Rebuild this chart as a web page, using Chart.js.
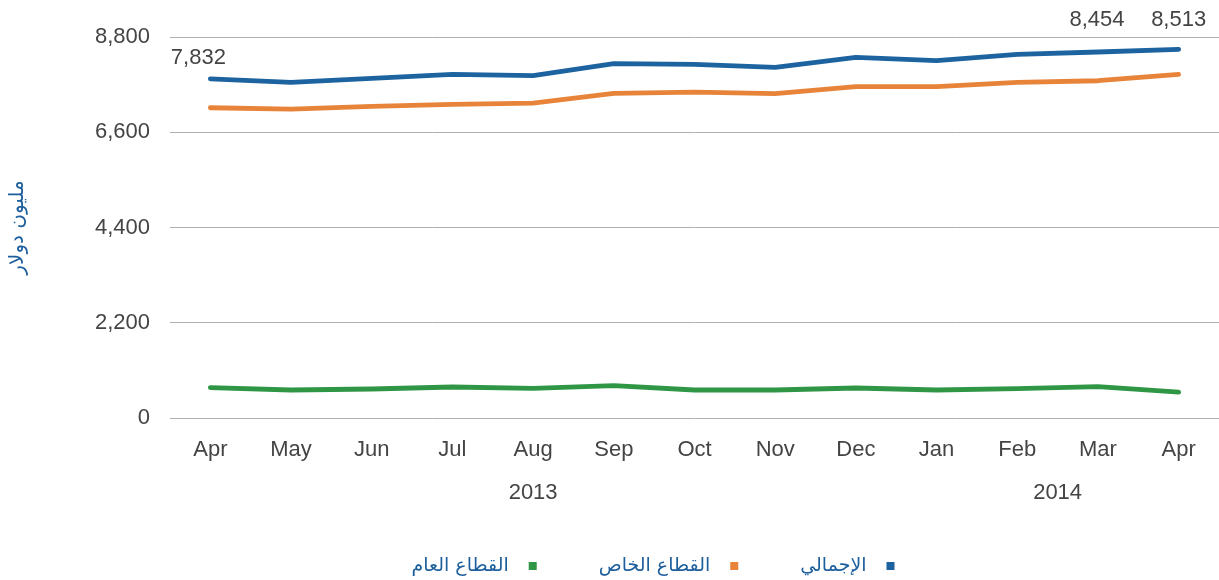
<!DOCTYPE html>
<html>
<head>
<meta charset="utf-8">
<script src="https://cdn.jsdelivr.net/npm/chart.js@4.4.1/dist/chart.umd.min.js"></script>
<style>
  html, body { margin: 0; padding: 0; background: #fff; }
</style>
</head>
<body>
<canvas id="myChart" width="1219" height="580"></canvas>
<script>
// data
const months = ['Apr', 'May', 'Jun', 'Jul', 'Aug', 'Sep', 'Oct', 'Nov', 'Dec', 'Jan', 'Feb', 'Mar', 'Apr'];
const yearNames = ['2013', '2014'];
const yearFrom = [4, 10];
const yearTo = [4, 11];
const seriesNames = ['الإجمالي', 'القطاع الخاص', 'القطاع العام'];
const total = [7832, 7753, 7845, 7938, 7906, 8183, 8169, 8099, 8330, 8252, 8400, 8454, 8513];
const privateSector = [7166, 7136, 7197, 7244, 7274, 7497, 7529, 7490, 7652, 7652, 7753, 7790, 7938];
const publicSector = [700, 647, 670, 716, 686, 746, 647, 647, 693, 647, 677, 723, 600];
const yTicks = [0, 2200, 4400, 6600, 8800];
const labelledPoints = [0, 11, 12];
const yTitle = 'مليون دولار';

const colors = ['#1c63a0', '#e8843a', '#2f9645'];
const textGrey = '#444444';
const titleBlue = '#1d5e9c';
const latin = '"Liberation Sans", Arial, sans-serif';
const arabic = '"DejaVu Sans", sans-serif';

const fmt = v => v.toLocaleString('en-US');

// value labels above some points of the total line
const labelOffsets = { 0: [-12, -21], 11: [-1, -32], 12: [0, -29] };
const valueLabels = {
  id: 'valueLabels',
  afterDatasetsDraw(chart) {
    const ctx = chart.ctx;
    const meta = chart.getDatasetMeta(0);
    ctx.save();
    ctx.font = '22px ' + latin;
    ctx.fillStyle = textGrey;
    ctx.textAlign = 'center';
    ctx.textBaseline = 'middle';
    labelledPoints.forEach(i => {
      const p = meta.data[i];
      const off = labelOffsets[i];
      ctx.fillText(fmt(total[i]), p.x + off[0], p.y + off[1]);
    });
    ctx.restore();
  }
};

// year row under the month labels
const yearRow = {
  id: 'yearRow',
  afterDraw(chart) {
    const ctx = chart.ctx;
    const x = chart.scales.x;
    ctx.save();
    ctx.font = '22px ' + latin;
    ctx.fillStyle = textGrey;
    ctx.textAlign = 'center';
    ctx.textBaseline = 'middle';
    yearNames.forEach((y, k) => {
      const cx = (x.getPixelForValue(yearFrom[k]) + x.getPixelForValue(yearTo[k])) / 2;
      ctx.fillText(y, cx, chart.chartArea.bottom + 75);
    });
    ctx.restore();
  }
};

// right-to-left legend at the bottom
const rtlLegend = {
  id: 'rtlLegend',
  afterDraw(chart) {
    const ctx = chart.ctx;
    ctx.save();
    ctx.font = '19px ' + arabic;
    const box = 8, gap = 20, itemGap = 62;
    const widths = chart.data.datasets.map(d => box + gap + ctx.measureText(d.label).width);
    const full = widths.reduce((a, b) => a + b, 0) + itemGap * (widths.length - 1);
    let right = 653 + full / 2;
    const cy = 566;
    ctx.textBaseline = 'middle';
    ctx.textAlign = 'right';
    chart.data.datasets.forEach((d, i) => {
      ctx.fillStyle = d.borderColor;
      ctx.fillRect(right - box, cy - box / 2, box, box);
      ctx.fillStyle = titleBlue;
      ctx.fillText(d.label, right - box - gap, cy);
      right -= widths[i] + itemGap;
    });
    ctx.restore();
  }
};

const series = [total, privateSector, publicSector];
const datasets = series.map((s, i) => ({
  label: seriesNames[i],
  data: s,
  borderColor: colors[i],
  backgroundColor: colors[i],
  borderWidth: 4.8,
  pointRadius: 0,
  tension: 0,
  borderCapStyle: 'round',
  borderJoinStyle: 'round'
}));

const ctx = document.getElementById('myChart').getContext('2d');
const myChart = new Chart(ctx, {
  type: 'line',
  data: { labels: months, datasets: datasets },
  options: {
    responsive: false,
    animation: false,
    layout: { padding: { top: 37, right: 0, bottom: 0, left: 0 } },
    plugins: {
      legend: { display: false },
      tooltip: { enabled: false }
    },
    scales: {
      x: {
        offset: true,
        grid: { display: false, drawTicks: false },
        border: { display: false },
        ticks: { color: textGrey, font: { family: latin, size: 22 }, padding: 19, maxRotation: 0 },
        afterFit: s => { s.height = 162; }
      },
      y: {
        min: 0,
        max: 8800,
        afterBuildTicks: s => { s.ticks = yTicks.map(v => ({ value: v })); },
        grid: { color: '#b0b0b0', lineWidth: 1, drawTicks: false },
        border: { display: false },
        ticks: { color: textGrey, font: { family: latin, size: 22 }, padding: 20, callback: v => fmt(v) },
        title: {
          display: true,
          text: yTitle,
          color: titleBlue,
          font: { family: arabic, size: 20 },
          padding: { top: 6, bottom: 0 }
        },
        afterFit: s => { s.width = 170; }
      }
    }
  },
  plugins: [valueLabels, yearRow, rtlLegend]
});
</script>
</body>
</html>
